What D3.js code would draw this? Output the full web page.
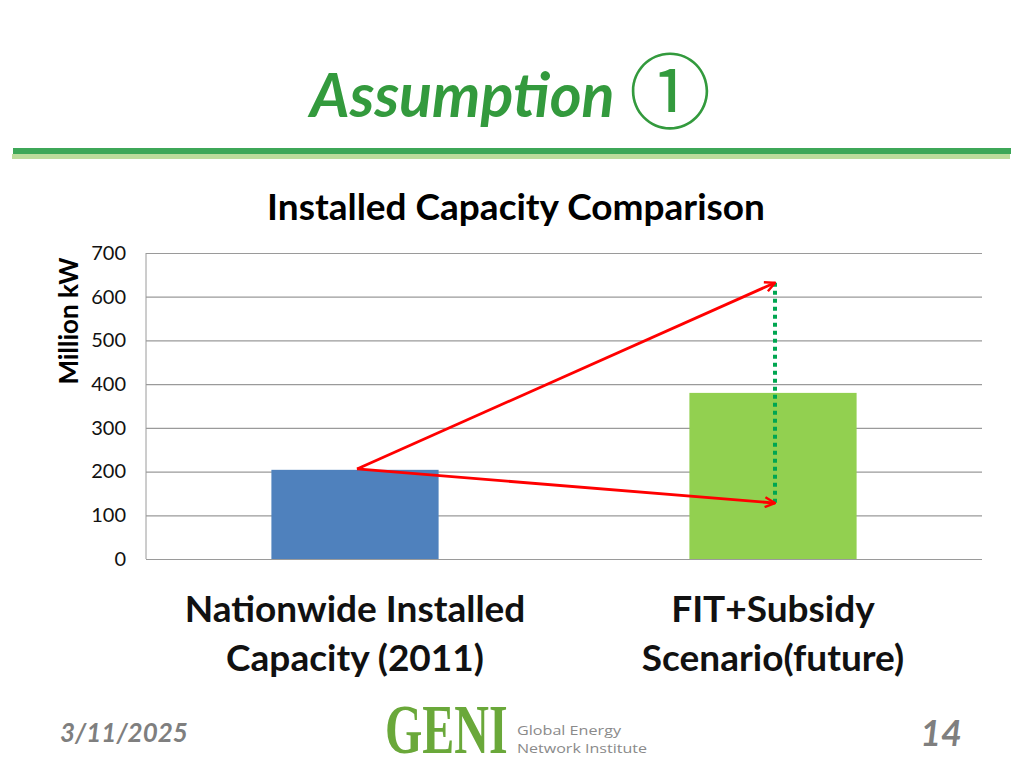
<!DOCTYPE html>
<html><head><meta charset="utf-8">
<script src="https://cdn.jsdelivr.net/npm/d3@7"></script>
<style>body{margin:0;background:#fff;} svg{display:block;}</style>
</head><body>
<script>
const categories = [["Nationwide Installed","Capacity (2011)"],["FIT+Subsidy","Scenario(future)"]];
const values = [204, 380];
const barColors = ["#4f81bd", "#92d050"];
const yTicks = [0,100,200,300,400,500,600,700];
const arrowStart = 206;
const arrowTargets = [632, 128];

const W = 1024, H = 768;
const svg = d3.select("body").append("svg").attr("width", W).attr("height", H);
const font = "Lato, 'Open Sans', sans-serif";

// Title
svg.append("text").attr("x", 310).attr("y", 117)
  .attr("font-family", font).attr("font-weight","bold").attr("font-style","italic").attr("font-size", 61).attr("fill","#339a3d")
  .text("Assumption");
svg.append("text").attr("x", 670).attr("y", 122).attr("text-anchor","middle")
  .attr("font-family", "'Noto Sans CJK JP', sans-serif").attr("font-size", 82).attr("fill","#339a3d")
  .text("①");

// Header lines
svg.append("rect").attr("x",13).attr("y",148).attr("width",998).attr("height",6).attr("fill","#3da758");
svg.append("rect").attr("x",12).attr("y",154).attr("width",998).attr("height",5).attr("fill","#bcdc9c");

// Chart
const x = d3.scaleBand().domain(d3.range(categories.length)).range([146, 982]).paddingInner(0.6).paddingOuter(0.3);
const y = d3.scaleLinear().domain([0, 700]).range([559, 253]);

svg.append("text").attr("x", 516).attr("y", 220).attr("text-anchor","middle")
  .attr("font-family", font).attr("font-weight","bold").attr("font-size", 37).attr("fill","#000")
  .text("Installed Capacity Comparison");

const yAxis = svg.append("g").attr("transform","translate(146,0)")
  .call(d3.axisLeft(y).tickValues(yTicks).tickSize(-836).tickPadding(20));
yAxis.select(".domain").attr("stroke","#9a9a9a").attr("d","M0,253V559");
yAxis.selectAll(".tick line").attr("stroke","#9a9a9a").attr("stroke-width",1.2);
yAxis.selectAll(".tick text").attr("font-family", font).attr("font-size", 20).attr("fill","#111");

svg.append("text").attr("transform","translate(78,321) rotate(-90)").attr("text-anchor","middle")
  .attr("font-family", font).attr("font-weight","bold").attr("font-size", 26).attr("fill","#000")
  .text("Million kW");

svg.selectAll("rect.bar").data(values).enter().append("rect").attr("class","bar")
  .attr("x",(d,i)=>x(i)).attr("width",x.bandwidth())
  .attr("y",d=>y(d)).attr("height",d=>y(0)-y(d)).attr("fill",(d,i)=>barColors[i]);

// x labels
categories.forEach((lines,i)=>{
  const g = svg.append("text").attr("text-anchor","middle").attr("font-family", font)
    .attr("font-weight","bold").attr("font-size", 37).attr("fill","#111");
  lines.forEach((l,j)=>g.append("tspan").attr("x", x(i)+x.bandwidth()/2).attr("y", 622 + j*49).text(l));
});

// dotted green line
const cx1 = x(0)+x.bandwidth()/2 + 2, cx2 = x(1)+x.bandwidth()/2 + 2;
svg.append("line").attr("x1",cx2).attr("x2",cx2).attr("y1",y(arrowTargets[0])).attr("y2",y(arrowTargets[1]))
  .attr("stroke","#00a651").attr("stroke-width",4).attr("stroke-dasharray","4 4");

// arrows
svg.append("defs").append("marker").attr("id","ah").attr("viewBox","0 0 12 12").attr("refX",11).attr("refY",6)
  .attr("markerWidth",12).attr("markerHeight",12).attr("markerUnits","userSpaceOnUse").attr("orient","auto")
  .append("path").attr("d","M1,1 L11,6 L1,11").attr("fill","none").attr("stroke","#ff0000").attr("stroke-width",2.4);
arrowTargets.forEach(v=>{
  svg.append("line").attr("x1",cx1).attr("y1",y(arrowStart)).attr("x2",cx2).attr("y2",y(v))
    .attr("stroke","#ff0000").attr("stroke-width",2.8).attr("marker-end","url(#ah)");
});

// footer
svg.append("text").attr("x",60).attr("y",742).attr("font-family",font).attr("font-weight","bold")
  .attr("font-style","italic").attr("font-size",26).attr("fill","#7f7f7f").text("3/11/2025");
svg.append("text").attr("x",962).attr("y",746).attr("text-anchor","end").attr("font-family",font).attr("font-weight","bold")
  .attr("font-style","italic").attr("font-size",36).attr("fill","#7f7f7f").text("14");

// logo
svg.append("text").attr("transform","translate(385,753) scale(1,1.45)").attr("font-family","'Liberation Serif', serif").attr("font-weight","bold")
  .attr("font-size",48).attr("fill","#6aa83a").text("GENI");
svg.append("text").attr("x",517).attr("y",735).attr("font-family","'Open Sans', sans-serif")
  .attr("font-size",13).attr("fill","#8a8a8a").attr("textLength",104).attr("lengthAdjust","spacingAndGlyphs").text("Global Energy");
svg.append("text").attr("x",517).attr("y",753).attr("font-family","'Open Sans', sans-serif")
  .attr("font-size",13).attr("fill","#8a8a8a").attr("textLength",130).attr("lengthAdjust","spacingAndGlyphs").text("Network Institute");
</script>
</body></html>
